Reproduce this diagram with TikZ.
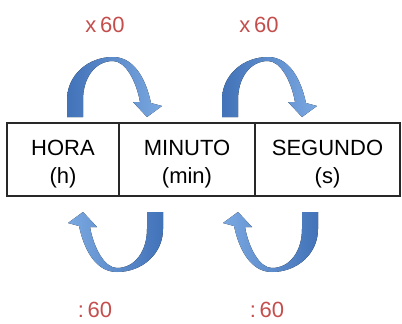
\documentclass[tikz,border=0pt]{standalone}
\usepackage{fontspec}
\setmainfont{Liberation Sans}
\definecolor{arrowdark}{RGB}{66,114,184}
\definecolor{arrowlight}{RGB}{122,168,225}
\definecolor{labelred}{RGB}{196,78,76}
\definecolor{gridline}{RGB}{40,40,40}
\tikzset{
  cell/.style={draw=gridline, line width=1.3pt, minimum height=73pt, inner sep=0pt},
  unitname/.style={align=center, inner sep=0pt, font=\fontsize{22}{28}\selectfont},
  factor/.style={text=labelred, font=\fontsize{22}{24}\selectfont},
  % curved conversion arrow: legs rest on the local origin line, arrowhead at the right
  pics/turnarrow/.style={code={
    \fill[#1] (-48,0) -- (-48,-17)
      .. controls (-48,-42) and (-27,-60) .. (-2,-60)
      .. controls (17,-60) and (30,-42) .. (36,-14)
      -- (47,-11) -- (32,0) -- (18,-15) -- (25,-15)
      .. controls (21,-37) and (10,-56) .. (-2,-56)
      .. controls (-20,-56) and (-32,-39) .. (-32,-17)
      -- (-32,0) -- cycle;
  }}
}
\begin{document}
\begin{tikzpicture}[x=1pt,y=-1pt]
\useasboundingbox (0,0) rectangle (402,324);

% unit table
\node[cell, minimum width=112pt] (h)   at (63,159.5)    {};
\node[cell, minimum width=136pt] (min) at (187,159.5)   {};
\node[cell, minimum width=145pt] (s)   at (327.5,159.5) {};
\node[unitname] (th) at ([yshift=-4.5pt]h.center)   {HORA\\(h)};
\node[unitname] (tm) at ([yshift=-4.5pt]min.center) {MINUTO\\(min)};
\node[unitname] (ts) at ([yshift=-4.5pt]s.center)   {SEGUNDO\\(s)};

% multiply arrows above, divide arrows below
\pic at (115,117) {turnarrow={left color=arrowdark, right color=arrowlight}};
\pic at (270,117) {turnarrow={left color=arrowdark, right color=arrowlight}};
\pic[rotate=180] at (115,212) {turnarrow={left color=arrowlight, right color=arrowdark}};
\pic[rotate=180] at (270,212) {turnarrow={left color=arrowlight, right color=arrowdark}};

\node[factor] (m1) at (105,25) {x\,60};
\node[factor] (m2) at (259,25) {x\,60};
\node[factor] (d1) at (95,310) {:\,60};
\node[factor] (d2) at (267,310) {:\,60};
\end{tikzpicture}
\end{document}
